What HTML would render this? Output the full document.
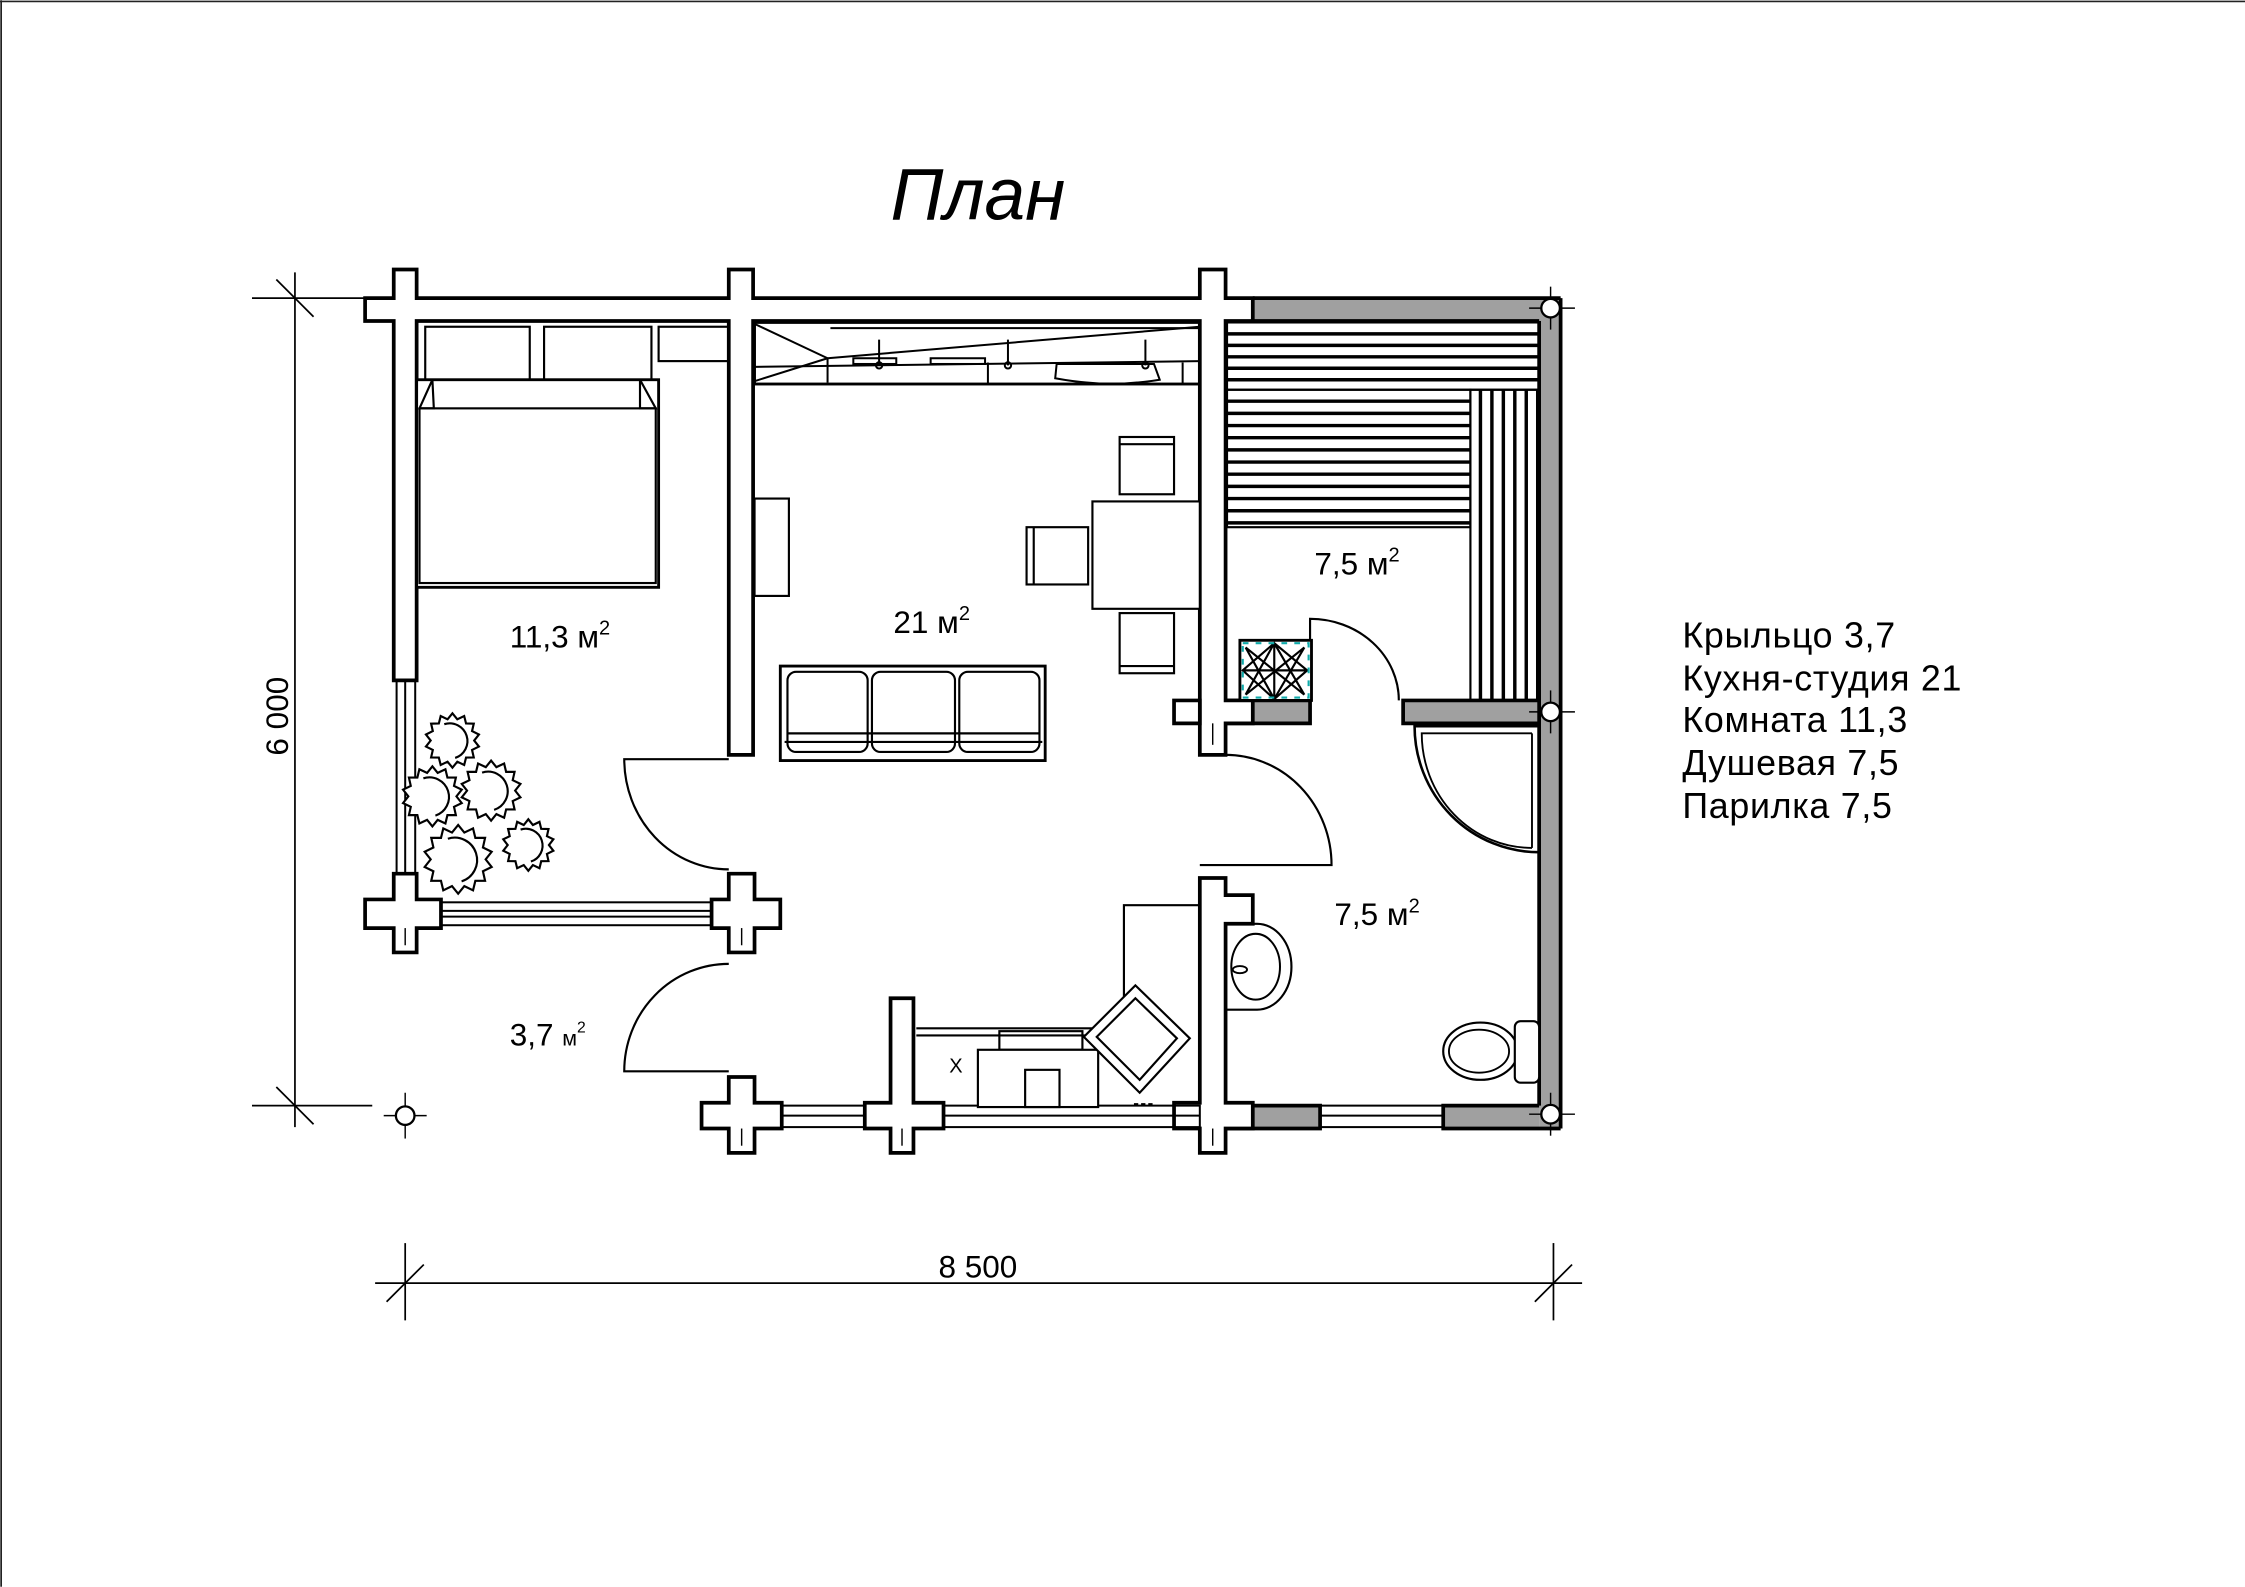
<!DOCTYPE html>
<html><head><meta charset="utf-8"><style>
html,body{margin:0;padding:0;background:#fff;}
svg{display:block;}
text{font-family:"Liberation Sans",sans-serif;fill:#000;}
</style></head><body>
<svg id="s" width="2245" height="1587" viewBox="0 0 1568 1108" xmlns="http://www.w3.org/2000/svg">
<rect x="0" y="0" width="1568" height="1108" fill="#fff"/>
<line x1="0.8" y1="0" x2="0.8" y2="1108" stroke="#222" stroke-width="1.2"/>
<line x1="0" y1="0.8" x2="1568" y2="0.8" stroke="#222" stroke-width="1.2"/>

<text x="683" y="153" font-size="51" font-style="italic" text-anchor="middle">План</text>

<g fill="#a0a0a0" stroke="none">
<rect x="875" y="208" width="208" height="16"/>
<rect x="1075" y="208" width="15" height="580"/>
<rect x="856" y="489" width="59" height="16"/>
<rect x="980" y="489" width="95" height="16"/>
<rect x="875" y="772" width="47" height="16"/>
<rect x="1008" y="772" width="67" height="16"/>
</g>
<g fill="none" stroke="#000" stroke-width="2.6">
<line x1="875" y1="208" x2="1090" y2="208"/>
<line x1="856" y1="224" x2="1075" y2="224"/>
<line x1="1090" y1="208" x2="1090" y2="788"/>
<line x1="1075" y1="224" x2="1075" y2="772"/>
<path d="M856 489 H915 V505 H856"/>
<path d="M1075 489 H980 V505 H1075"/>
<path d="M856 772 H922 V788 H856"/>
<path d="M1075 772 H1008 V788 H1090"/>
</g>

<g fill="#fff" stroke="#000" stroke-width="2.6" stroke-linejoin="miter">
<path d="M255 208 H275 V188 H291 V208 H509 V188 H526 V208 H838 V188 H856 V208 H875 V224 H856 V489 H875 V505 H856 V527 H838 V224 H526 V527 H509 V224 H291 V475 H275 V224 H255 Z"/>
<path d="M275 610 H291 V628 H308 V648 H291 V665 H275 V648 H255 V628 H275 Z"/>
<path d="M509 610 H527 V628 H545 V648 H527 V665 H509 V648 H497 V628 H509 Z"/>
<path d="M509 752 H527 V770 H546 V788 H527 V805 H509 V788 H490 V770 H509 Z"/>
<path d="M622 697 H638 V770 H659 V788 H638 V805 H622 V788 H604 V770 H622 Z"/>
<path d="M838 613 H856 V625 H875 V645 H856 V770 H875 V788 H856 V805 H838 V788 H820 V770 H838 Z"/>
<path d="M820 489 H838 V505 H820 Z"/>
</g>
<g stroke="#000" stroke-width="1" fill="none">
<line x1="283" y1="648" x2="283" y2="660"/><line x1="518" y1="648" x2="518" y2="660"/>
<line x1="518" y1="788" x2="518" y2="800"/><line x1="630" y1="788" x2="630" y2="800"/>
<line x1="847" y1="788" x2="847" y2="800"/><line x1="847" y1="505" x2="847" y2="520"/>
</g>

<g fill="none" stroke="#000" stroke-width="1.4">
<rect x="277" y="475" width="13" height="135"/><line x1="283" y1="475" x2="283" y2="610"/>
<rect x="308" y="630" width="189" height="16"/><line x1="308" y1="636" x2="497" y2="636"/><line x1="308" y1="640" x2="497" y2="640"/>
<rect x="546" y="772" width="58" height="15"/><line x1="546" y1="779" x2="604" y2="779"/>
<rect x="659" y="772" width="179" height="15"/><line x1="659" y1="779" x2="838" y2="779"/>
<rect x="922" y="772" width="86" height="15"/><line x1="922" y1="779" x2="1008" y2="779"/>
</g>

<g fill="none" stroke="#000" stroke-width="1.5">
<path d="M509 530 H436 A73 77 0 0 0 509 607"/>
<path d="M509 748 H436 A73 75 0 0 1 509 673"/>
<path d="M838 604 H930 A74 77 0 0 0 856 527"/>
<path d="M915 489 V432 A62 57 0 0 1 977 489"/>
</g>

<g stroke="#000" fill="none">
<rect x="857" y="225" width="218" height="47" stroke-width="1.5"/>
<rect x="857" y="272" width="170" height="96" stroke-width="1.5"/>
<rect x="1027" y="272" width="48" height="217" stroke-width="1.5"/>
<g stroke-width="2.4" id="slats"></g>
</g>
<rect x="866" y="447" width="50" height="42" fill="#fff" stroke="#000" stroke-width="2"/>
<path d="M870 452 L911 485 M911 452 L870 485 M890 449 L890 488 M868 468 H913 M870 452 L890 488 L911 452 M870 485 L890 449 L911 485 M868 468 L890 449 L913 468 L890 488 Z" stroke="#000" stroke-width="1.5" fill="none"/>
<rect x="868" y="449" width="46" height="38" fill="none" stroke="#1aa" stroke-width="1.5" stroke-dasharray="4 5"/>

<!-- shower -->
<path d="M1075 507 H988 A87 88 0 0 0 1075 595" fill="none" stroke="#000" stroke-width="1.8"/>
<path d="M1070 512 H993 A77 80 0 0 0 1070 592" fill="none" stroke="#000" stroke-width="1.3"/>
<line x1="1070" y1="512" x2="1070" y2="592" stroke="#000" stroke-width="1.3"/>
<!-- sink -->
<path d="M857 645 H878 A24 30 0 0 1 878 705 H857" fill="none" stroke="#000" stroke-width="1.5"/>
<ellipse cx="877" cy="675" rx="17" ry="23" fill="none" stroke="#000" stroke-width="1.4"/>
<ellipse cx="866" cy="677" rx="5" ry="2.5" fill="none" stroke="#000" stroke-width="1.3"/>
<!-- toilet -->
<ellipse cx="1034" cy="734" rx="26" ry="20" fill="none" stroke="#000" stroke-width="1.5"/>
<ellipse cx="1033" cy="734" rx="21" ry="15" fill="none" stroke="#000" stroke-width="1.3"/>
<rect x="1058" y="713" width="17" height="43" rx="4" fill="#fff" stroke="#000" stroke-width="1.5"/>

<g fill="none" stroke="#000" stroke-width="1.4">
<rect x="527" y="225" width="311" height="43" stroke-width="2"/>
<line x1="580" y1="229" x2="838" y2="229"/>
<line x1="527" y1="226" x2="578" y2="250"/><line x1="527" y1="266" x2="578" y2="250"/>
<line x1="578" y1="250" x2="838" y2="228"/>
<line x1="527" y1="256" x2="838" y2="252"/>
<line x1="578" y1="250" x2="578" y2="267"/>
<line x1="614" y1="237" x2="614" y2="255"/><circle cx="614" cy="255" r="2.2"/>
<line x1="704" y1="237" x2="704" y2="255"/><circle cx="704" cy="255" r="2.2"/>
<line x1="800" y1="237" x2="800" y2="255"/><circle cx="800" cy="255" r="2.2"/>
<path d="M738 254 H806 L810 265 Q774 271 737 264 Z"/>
<rect x="596" y="250" width="30" height="4"/><rect x="650" y="250" width="38" height="4"/>
<line x1="690" y1="253" x2="690" y2="268"/><line x1="826" y1="253" x2="826" y2="268"/>
</g>
<rect x="527" y="348" width="24" height="68" fill="none" stroke="#000" stroke-width="1.5"/>
<g fill="#fff" stroke="#000" stroke-width="1.5">
<rect x="763" y="350" width="75" height="75"/>
<rect x="782" y="305" width="38" height="40"/><line x1="782" y1="310" x2="820" y2="310"/>
<rect x="782" y="428" width="38" height="42"/><line x1="782" y1="465" x2="820" y2="465"/>
<rect x="717" y="368" width="43" height="40"/><line x1="722" y1="368" x2="722" y2="408"/>
</g>
<g fill="none" stroke="#000" stroke-width="1.5">
<rect x="545" y="465" width="185" height="66" stroke-width="2"/>
<rect x="550" y="469" width="56" height="56" rx="6"/>
<rect x="609" y="469" width="58" height="56" rx="6"/>
<rect x="670" y="469" width="56" height="56" rx="6"/>
<line x1="550" y1="512" x2="726" y2="512"/>
<line x1="548" y1="518" x2="728" y2="518"/>
</g>
<g fill="none" stroke="#000" stroke-width="1.5">
<rect x="297" y="228" width="73" height="43"/>
<rect x="380" y="228" width="75" height="43"/>
<rect x="460" y="228" width="49" height="24"/>
<rect x="291" y="265" width="169" height="145" stroke-width="2" fill="#fff"/>
<path d="M302 265 L293 285 H303 Z M447 265 L458 285 H447 Z" fill="#fff"/>
<rect x="293" y="285" width="165" height="122"/>
</g>
<g fill="none" stroke="#000" stroke-width="1.5">
<path d="M838 632 H785 V697 L765 718 H640"/>
<line x1="640" y1="723" x2="765" y2="723"/>
<rect x="698" y="720" width="58" height="13"/>
<rect x="683" y="733" width="84" height="40" fill="#fff"/>
<rect x="716" y="747" width="24" height="26"/>
<path d="M793 688 L831 725 L796 763 L757 724 Z" fill="#fff"/>
<path d="M793 697 L822 725 L796 754 L766 724 Z"/>
<line x1="792" y1="771" x2="806" y2="771" stroke-dasharray="3 2"/>
</g>
<text x="663" y="749" font-size="14">X</text>
<g id="plants" fill="#fff" stroke="#000" stroke-width="1.5"></g>

<g fill="#fff" stroke="#000" stroke-width="1.6">
<line x1="1083" y1="200" x2="1083" y2="230" stroke-width="1"/><line x1="1068" y1="215" x2="1100" y2="215" stroke-width="1"/>
<line x1="1083" y1="482" x2="1083" y2="512" stroke-width="1"/><line x1="1068" y1="497" x2="1100" y2="497" stroke-width="1"/>
<line x1="1083" y1="763" x2="1083" y2="793" stroke-width="1"/><line x1="1068" y1="778" x2="1100" y2="778" stroke-width="1"/>
<line x1="283" y1="763" x2="283" y2="795" stroke-width="1"/><line x1="268" y1="779" x2="298" y2="779" stroke-width="1"/>
<circle cx="1083" cy="215" r="6.5"/><circle cx="1083" cy="497" r="6.5"/><circle cx="1083" cy="778" r="6.5"/><circle cx="283" cy="779" r="6.5"/>
</g>

<g stroke="#000" stroke-width="1.2" fill="none">
<line x1="206" y1="190" x2="206" y2="787"/>
<line x1="176" y1="208" x2="255" y2="208"/>
<line x1="176" y1="772" x2="260" y2="772"/>
<line x1="193" y1="195" x2="219" y2="221"/>
<line x1="193" y1="759" x2="219" y2="785"/>
<line x1="262" y1="896" x2="1105" y2="896"/>
<line x1="283" y1="868" x2="283" y2="922"/>
<line x1="1085" y1="868" x2="1085" y2="922"/>
<line x1="270" y1="909" x2="296" y2="883"/>
<line x1="1072" y1="909" x2="1098" y2="883"/>
</g>
<text x="683" y="892" font-size="22" text-anchor="middle">8 500</text>
<text transform="translate(201,500) rotate(-90)" font-size="22" text-anchor="middle">6 000</text>

<text x="356" y="452" font-size="22">11,3 м<tspan font-size="14" dy="-9">2</tspan></text>
<text x="624" y="442" font-size="22">21 м<tspan font-size="14" dy="-9">2</tspan></text>
<text x="918" y="401" font-size="22">7,5 м<tspan font-size="14" dy="-9">2</tspan></text>
<text x="932" y="646" font-size="22">7,5 м<tspan font-size="14" dy="-9">2</tspan></text>
<text x="356" y="730" font-size="22">3,7 <tspan font-size="15">м</tspan><tspan font-size="11" dy="-9">2</tspan></text>

<g font-size="25" letter-spacing="0.5">
<text x="1175" y="452">Крыльцо 3,7</text>
<text x="1175" y="482">Кухня-студия 21</text>
<text x="1175" y="511">Комната 11,3</text>
<text x="1175" y="541">Душевая 7,5</text>
<text x="1175" y="571">Парилка 7,5</text>
</g>
</svg>
<script>
var NS="http://www.w3.org/2000/svg";
var sl=document.getElementById("slats");
function L(x1,y1,x2,y2){var l=document.createElementNS(NS,"line");l.setAttribute("x1",x1);l.setAttribute("y1",y1);l.setAttribute("x2",x2);l.setAttribute("y2",y2);sl.appendChild(l);}
for(var y=233;y<272;y+=8)L(857,y,1075,y);
for(var y=280;y<368;y+=8.5)L(857,y,1027,y);
for(var x=1034;x<1075;x+=8)L(x,272,x,489);
var pg=document.getElementById("plants");
function plant(cx,cy,r){
 var p=document.createElementNS(NS,"polygon"),pts=[],n=14;
 for(var i=0;i<n*2;i++){var a=i*Math.PI/n,rr=(i%2?r:r*0.8);pts.push((cx+rr*Math.cos(a)).toFixed(1)+","+(cy+rr*Math.sin(a)).toFixed(1));}
 p.setAttribute("points",pts.join(" "));pg.appendChild(p);
 var c=document.createElementNS(NS,"path");c.setAttribute("fill","none");
 c.setAttribute("d","M"+(cx-r*0.3)+" "+(cy-r*0.6)+" A"+(r*0.65)+" "+(r*0.65)+" 0 1 1 "+(cx+r*0.1)+" "+(cy+r*0.64));pg.appendChild(c);
}
plant(316,517,19);plant(369,590,18);plant(302,556,21);plant(343,552,21);plant(320,600,24);
</script>
</body></html>
